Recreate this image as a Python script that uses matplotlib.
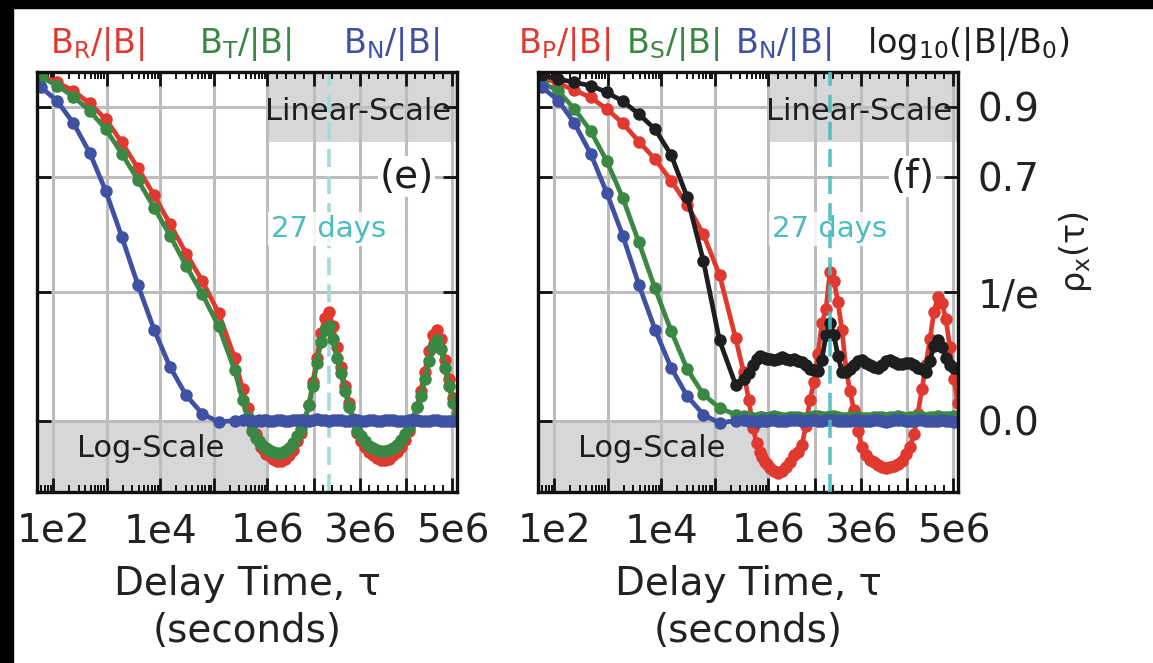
import numpy as np
import matplotlib
matplotlib.use('Agg')
import matplotlib.pyplot as plt
from matplotlib.patches import Rectangle
from matplotlib.ticker import FixedLocator, FixedFormatter

plt.rcParams['font.family'] = ['DejaVu Sans']
plt.rcParams['mathtext.fontset'] = 'dejavusans'

# delay times: doubling steps from one minute, then one sample per day
tau_log = [60, 120, 240, 480, 960, 1920, 3840, 7680, 15360, 30720, 61440, 122880, 245760]
days = [4, 5, 6, 7, 8, 9, 10, 11, 12, 13,
        14, 15, 16, 17, 18, 19, 20, 21, 22, 23,
        24, 25, 26, 27, 28, 29, 30, 31, 32, 33,
        34, 35, 36, 37, 38, 39, 40, 41, 42, 43,
        44, 45, 46, 47, 48, 49, 50, 51, 52, 53,
        54, 55, 56, 57, 58, 59]
tau = tau_log + [d * 86400 for d in days]

# panel (e): RTN components
e_R = [0.99, 0.97, 0.946, 0.91, 0.865, 0.798, 0.724, 0.647, 0.563, 0.479, 0.40, 0.309, 0.18,
       0.09, 0.035, -0.01, -0.04, -0.06, -0.075, -0.085, -0.095, -0.10, -0.11,
       -0.115, -0.115, -0.11, -0.10, -0.085, -0.06, -0.035, 0.0, 0.045, 0.11,
       0.18, 0.25, 0.295, 0.31, 0.27, 0.21, 0.155, 0.10, 0.05, 0.005,
       -0.035, -0.06, -0.075, -0.09, -0.10, -0.108, -0.112, -0.112, -0.11, -0.10,
       -0.09, -0.075, -0.055, -0.03, 0.0, 0.04, 0.085, 0.14, 0.20, 0.245,
       0.26, 0.235, 0.175, 0.12, 0.065, 0.02]
e_T = [0.985, 0.961, 0.929, 0.889, 0.836, 0.766, 0.690, 0.611, 0.530, 0.443, 0.362, 0.271, 0.144,
       0.06, 0.01, -0.03, -0.05, -0.06, -0.068, -0.075, -0.08, -0.085, -0.09,
       -0.092, -0.092, -0.088, -0.078, -0.065, -0.045, -0.025, 0.005, 0.045, 0.10,
       0.165, 0.225, 0.26, 0.27, 0.235, 0.18, 0.135, 0.085, 0.04, 0.0,
       -0.03, -0.045, -0.06, -0.072, -0.08, -0.085, -0.088, -0.088, -0.085, -0.08,
       -0.07, -0.055, -0.04, -0.02, 0.005, 0.04, 0.07, 0.12, 0.17, 0.21,
       0.23, 0.205, 0.15, 0.10, 0.05, 0.01]
e_N = [0.956, 0.916, 0.853, 0.769, 0.659, 0.527, 0.389, 0.261, 0.153, 0.072, 0.019, -0.004, 0.0,
       0.003, 0.001, -0.002, 0.000, 0.002, -0.001, 0.001, 0.003, 0.000, -0.002,
       0.001, 0.002, 0.000, -0.001, 0.002, 0.003, 0.001, -0.002, 0.000, 0.002,
       0.004, 0.003, 0.001, 0.000, 0.002, 0.003, 0.001, -0.001, 0.000, 0.002,
       0.001, -0.002, -0.001, 0.001, 0.002, 0.000, -0.001, 0.001, 0.003, 0.002,
       0.000, -0.002, -0.001, 0.001, 0.002, 0.001, -0.001, -0.002, 0.000, 0.001,
       0.002, 0.000, -0.001, -0.002, -0.001, 0.000]

# panel (f): PSN components and field magnitude
f_P = [0.985, 0.967, 0.948, 0.927, 0.894, 0.853, 0.80, 0.75, 0.688, 0.619, 0.534, 0.418, 0.236,
       0.14, 0.06, -0.02, -0.065, -0.09, -0.105, -0.118, -0.125, -0.135, -0.145,
       -0.15, -0.145, -0.133, -0.12, -0.10, -0.09, -0.07, -0.015, 0.06, 0.11,
       0.19, 0.28, 0.32, 0.425, 0.40, 0.34, 0.26, 0.15, 0.085, 0.03,
       -0.03, -0.075, -0.10, -0.112, -0.12, -0.128, -0.133, -0.136, -0.134, -0.13,
       -0.125, -0.115, -0.095, -0.075, -0.04, 0.02, 0.09, 0.16, 0.233, 0.31,
       0.355, 0.338, 0.29, 0.21, 0.12, 0.05]
f_S = [0.97, 0.945, 0.894, 0.831, 0.745, 0.638, 0.511, 0.379, 0.257, 0.147, 0.075, 0.036, 0.017,
       0.012, 0.010, 0.008, 0.006, 0.009, 0.011, 0.008, 0.007, 0.010, 0.012,
       0.009, 0.006, 0.008, 0.010, 0.011, 0.009, 0.007, 0.008, 0.010, 0.012,
       0.013, 0.011, 0.009, 0.012, 0.014, 0.010, 0.008, 0.007, 0.009, 0.011,
       0.010, 0.008, 0.006, 0.008, 0.010, 0.011, 0.009, 0.007, 0.009, 0.011,
       0.012, 0.010, 0.008, 0.009, 0.011, 0.012, 0.010, 0.008, 0.009, 0.011,
       0.012, 0.010, 0.009, 0.011, 0.012, 0.010]
f_N = [0.956, 0.918, 0.853, 0.766, 0.654, 0.530, 0.389, 0.261, 0.151, 0.070, 0.017, -0.007, 0.0,
       0.002, -0.001, 0.000, -0.003, -0.001, 0.001, -0.002, 0.000, 0.002, 0.001,
       -0.001, -0.002, 0.000, 0.001, 0.003, 0.001, -0.001, 0.000, 0.002, 0.001,
       -0.002, 0.000, 0.001, 0.003, 0.002, 0.000, -0.001, -0.002, 0.000, 0.001,
       0.002, 0.000, -0.002, -0.001, 0.001, 0.002, 0.000, -0.003, -0.001, 0.001,
       0.002, 0.001, -0.001, -0.002, 0.000, 0.001, 0.002, 0.000, -0.002, -0.001,
       0.000, 0.001, -0.001, -0.002, -0.003, -0.002]
f_B = [0.99, 0.98, 0.97, 0.961, 0.942, 0.916, 0.879, 0.836, 0.762, 0.64, 0.458, 0.23, 0.103,
       0.12, 0.135, 0.16, 0.178, 0.185, 0.183, 0.18, 0.178, 0.176, 0.175,
       0.178, 0.182, 0.178, 0.174, 0.176, 0.172, 0.168, 0.158, 0.148, 0.144,
       0.142, 0.175, 0.245, 0.28, 0.245, 0.185, 0.14, 0.138, 0.147, 0.16,
       0.172, 0.175, 0.165, 0.16, 0.155, 0.152, 0.158, 0.17, 0.175, 0.168,
       0.162, 0.162, 0.165, 0.166, 0.158, 0.15, 0.147, 0.138, 0.17, 0.215,
       0.232, 0.212, 0.18, 0.16, 0.152, 0.15]

x_major = [1e2, 1e3, 1e4, 1e5, 1e6, 2e6, 3e6, 4e6, 5e6]
x_major_lbl = ['1e2', '', '1e4', '', '1e6', '', '3e6', '', '5e6']
x_minor = ([m * 10 for m in range(5, 10)] + [m * 100 for m in range(2, 10)] +
           [m * 1000 for m in range(2, 10)] + [m * 1e4 for m in range(2, 10)] +
           [m * 1e5 for m in range(2, 10)] +
           [1.2e6, 1.4e6, 1.6e6, 1.8e6, 2.2e6, 2.4e6, 2.6e6, 2.8e6, 3.2e6, 3.4e6,
            3.6e6, 3.8e6, 4.2e6, 4.4e6, 4.6e6, 4.8e6, 5.0e6])
y_ticks = [0.0, 1 / np.e, 0.7, 0.9]
y_lbl = ['0.0', '1/e', '0.7', '0.9']

RED = '#e03a30'
GREEN = '#3a8843'
BLUE = '#3f51a3'
BLACK = '#1e1e1e'
GRAY_BOX = '#d6d7d9'
GRID = '#bdbdbd'
CYAN = '#4bbcbf'

# log axis up to 1e6 s, linear after that
K = 46.25 / 53.5


def fwd(x):
    x = np.asarray(x, dtype=float)
    with np.errstate(all='ignore'):
        return np.where(x <= 1e6, np.log10(np.maximum(x, 1e-12)), 6 + (x - 1e6) / 1e6 * K)


def inv(y):
    y = np.asarray(y, dtype=float)
    with np.errstate(all='ignore'):
        return np.where(y <= 6, 10.0 ** np.minimum(y, 6), 1e6 + (y - 6) / K * 1e6)


XMIN, XMAX = 50, 5.1e6
YMIN, YMAX = -0.205, 1.0

fig = plt.figure(figsize=(11.53, 6.63), dpi=100)
W, H = 1153, 663
ax_e = fig.add_axes([37 / W, 1 - 492 / H, 420 / W, 420 / H])
ax_f = fig.add_axes([538 / W, 1 - 492 / H, 420 / W, 420 / H])


def setup(ax, label_right):
    ax.set_xscale('function', functions=(fwd, inv))
    ax.set_xlim(XMIN, XMAX)
    ax.set_ylim(YMIN, YMAX)
    ax.fill_between([1e6, XMAX], 0.8, YMAX, color=GRAY_BOX, lw=0, zorder=0.2)
    ax.fill_between([XMIN, 1e6], YMIN, 0.0, color=GRAY_BOX, lw=0, zorder=0.2)
    ax.xaxis.set_major_locator(FixedLocator(x_major))
    ax.xaxis.set_major_formatter(FixedFormatter(x_major_lbl))
    ax.xaxis.set_minor_locator(FixedLocator(x_minor))
    ax.set_yticks(y_ticks)
    ax.set_yticklabels(y_lbl)
    ax.grid(True, which='major', color=GRID, lw=2.2)
    ax.set_axisbelow(True)
    ax.tick_params(which='both', direction='in', top=True, right=True,
                   color='#111111', labelcolor='#222222', labelsize=28)
    ax.tick_params(which='major', length=10, width=2)
    ax.tick_params(which='minor', length=5, width=1.4)
    ax.tick_params(axis='x', pad=15)
    ax.tick_params(axis='y', labelleft=False, labelright=label_right, pad=14)
    for s in ax.spines.values():
        s.set_linewidth(2.4)
        s.set_color('#111111')
    ax.set_xlabel('Delay Time, τ\n(seconds)', fontsize=28, color='#222222', labelpad=10,
                  linespacing=1.3)
    ax.text(2.97e6, 0.886, 'Linear-Scale', fontsize=22, ha='center', va='center',
            color='#1e1e1e', zorder=3)
    ax.text(6.7e3, -0.08, 'Log-Scale', fontsize=22, ha='center', va='center',
            color='#1e1e1e', zorder=3)
    ax.text(27 * 86400, 0.55, '27 days', fontsize=21, ha='center', va='center', color=CYAN,
            zorder=1.8, bbox=dict(facecolor='white', edgecolor='none', alpha=0.85, pad=2))


def curve(ax, y, c, z):
    ax.plot(tau, y, '-o', color=c, lw=3.4, ms=9, mew=0, zorder=z)


setup(ax_e, False)
setup(ax_f, True)

ax_e.axvline(27 * 86400, color='#a6dada', lw=2.6, dashes=(5, 2.5), zorder=1.5)
ax_f.axvline(27 * 86400, color=CYAN, lw=2.6, dashes=(5, 2.5), zorder=4, alpha=0.9)

curve(ax_e, e_R, RED, 2)
curve(ax_e, e_T, GREEN, 2.1)
curve(ax_e, e_N, BLUE, 2.3)

curve(ax_f, f_P, RED, 2)
curve(ax_f, f_S, GREEN, 2.1)
curve(ax_f, f_B, BLACK, 2.2)
curve(ax_f, f_N, BLUE, 2.3)

for ax, tag in [(ax_e, '(e)'), (ax_f, '(f)')]:
    ax.text(4.6e6, 0.70, tag, fontsize=28, ha='right', va='center', color='#1e1e1e',
            zorder=5, bbox=dict(facecolor='white', edgecolor='none', pad=1))

# colored series titles above the panels
titles = [(97, r'$\mathregular{B_R/|B|}$', RED), (245, r'$\mathregular{B_T/|B|}$', GREEN),
          (391, r'$\mathregular{B_N/|B|}$', BLUE), (564, r'$\mathregular{B_P/|B|}$', RED),
          (673, r'$\mathregular{B_S/|B|}$', GREEN), (783, r'$\mathregular{B_N/|B|}$', BLUE),
          (968, r'$\mathregular{log_{10}(|B|/B_0)}$', '#1e1e1e')]
for px, s, c in titles:
    fig.text(px / W, 1 - 44 / H, s, fontsize=24, color=c, ha='center', va='center')

fig.text(1075 / W, 1 - 252 / H, r'ρ$_\mathregular{x}$(τ)', fontsize=24, rotation=90,
         ha='center', va='center', color='#222222')

# black frame strips at top and left edge
fig.add_artist(Rectangle((0, 1 - 8 / H), 1, 8 / H, transform=fig.transFigure,
                         color='black', zorder=10))
fig.add_artist(Rectangle((0, 0), 13 / W, 1, transform=fig.transFigure,
                         color='black', zorder=10))

fig.savefig('out.png', dpi=100)
